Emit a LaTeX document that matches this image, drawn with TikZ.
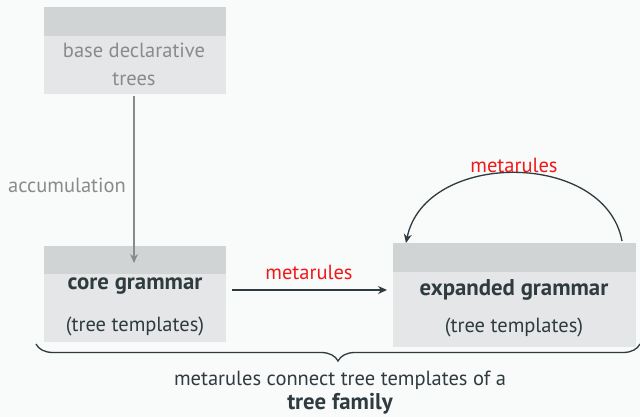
\documentclass[tikz,border=0pt]{standalone}
\usepackage{fontspec}
\setmainfont{PT Sans}
\usetikzlibrary{arrows.meta,decorations.pathreplacing}
\definecolor{bgc}{HTML}{F9FAFA}
\definecolor{band}{HTML}{D1D4D5}
\definecolor{boxc}{HTML}{E4E6E7}
\definecolor{ink}{HTML}{2F3B3F}
\definecolor{grayink}{HTML}{8A8A8A}
\definecolor{redink}{HTML}{F01818}
\tikzset{
  lbox/.style={fill=boxc, draw=none, inner sep=0pt, anchor=north west},
  lband/.style={fill=band, draw=none, inner sep=0pt, anchor=north west},
  txt/.style={text=ink, font=\fontsize{20.5}{24}\selectfont, inner sep=0pt},
  btxt/.style={text=ink, font=\fontsize{22.8}{26}\selectfont\bfseries, inner sep=0pt},
  gtxt/.style={text=grayink, font=\fontsize{20.5}{24}\selectfont, inner sep=0pt},
  rtxt/.style={text=redink, font=\fontsize{20.5}{24}\selectfont, inner sep=0pt},
  conn/.style={draw=ink, line width=1.3pt, -{Stealth[length=9pt,width=8pt]}},
  gconn/.style={draw=grayink, line width=1.3pt, -{Stealth[length=9pt,width=8pt]}}
}
\begin{document}
\begin{tikzpicture}[x=1pt,y=-1pt]
\fill[bgc] (0,0) rectangle (640,417);
\useasboundingbox (0,0) rectangle (640,417);
% box 1
\node[lbox, minimum width=182pt, minimum height=87pt] (b1) at (44,7) {};
\node[lband, minimum width=182pt, minimum height=29pt] (b1h) at (44,7) {};
\node[gtxt] (b1t1) at (134,50) {base declarative};
\node[gtxt] (b1t2) at (134,79) {trees};
% box 2
\node[lbox, minimum width=182pt, minimum height=96pt] (b2) at (44,246) {};
\node[lband, minimum width=182pt, minimum height=28pt] (b2h) at (44,246) {};
\node[btxt] (b2t1) at (135,286) {core grammar};
\node[txt] (b2t2) at (135,326) {(tree templates)};
% box 3
\node[lbox, minimum width=243pt, minimum height=104pt] (b3) at (393,243) {};
\node[lband, minimum width=243pt, minimum height=29pt] (b3h) at (393,243) {};
\node[btxt] (b3t1) at (514,290) {expanded grammar};
\node[txt] (b3t2) at (514,327) {(tree templates)};
% accumulation arrow
\coordinate (a1s) at (134,96);
\coordinate (a1e) at (134,263);
\draw[gconn] (a1s) -- (a1e);
\node[gtxt] (acc) at (67,185) {accumulation};
% metarules straight
\coordinate (m1s) at (232,290);
\coordinate (m1e) at (387,290);
\draw[conn] (m1s) -- (m1e);
\node[rtxt] (m1l) at (309,272) {metarules};
% loop
\coordinate (l1s) at (622,241);
\coordinate (l1e) at (406,243);
\draw[conn] (l1s) .. controls (605,150) and (425,150) .. (l1e);
\node[rtxt] (m2l) at (514,165) {metarules};
% brace
\coordinate (br1) at (36,344);
\coordinate (br2) at (640,344);
\draw[ink, line width=1.3pt, decorate, decoration={brace, mirror, amplitude=17pt}] (br1) -- (br2);
\node[txt] (cap1) at (340,380) {metarules connect tree templates of a};
\node[btxt] (cap2) at (340,404) {tree family};
\end{tikzpicture}
\end{document}
